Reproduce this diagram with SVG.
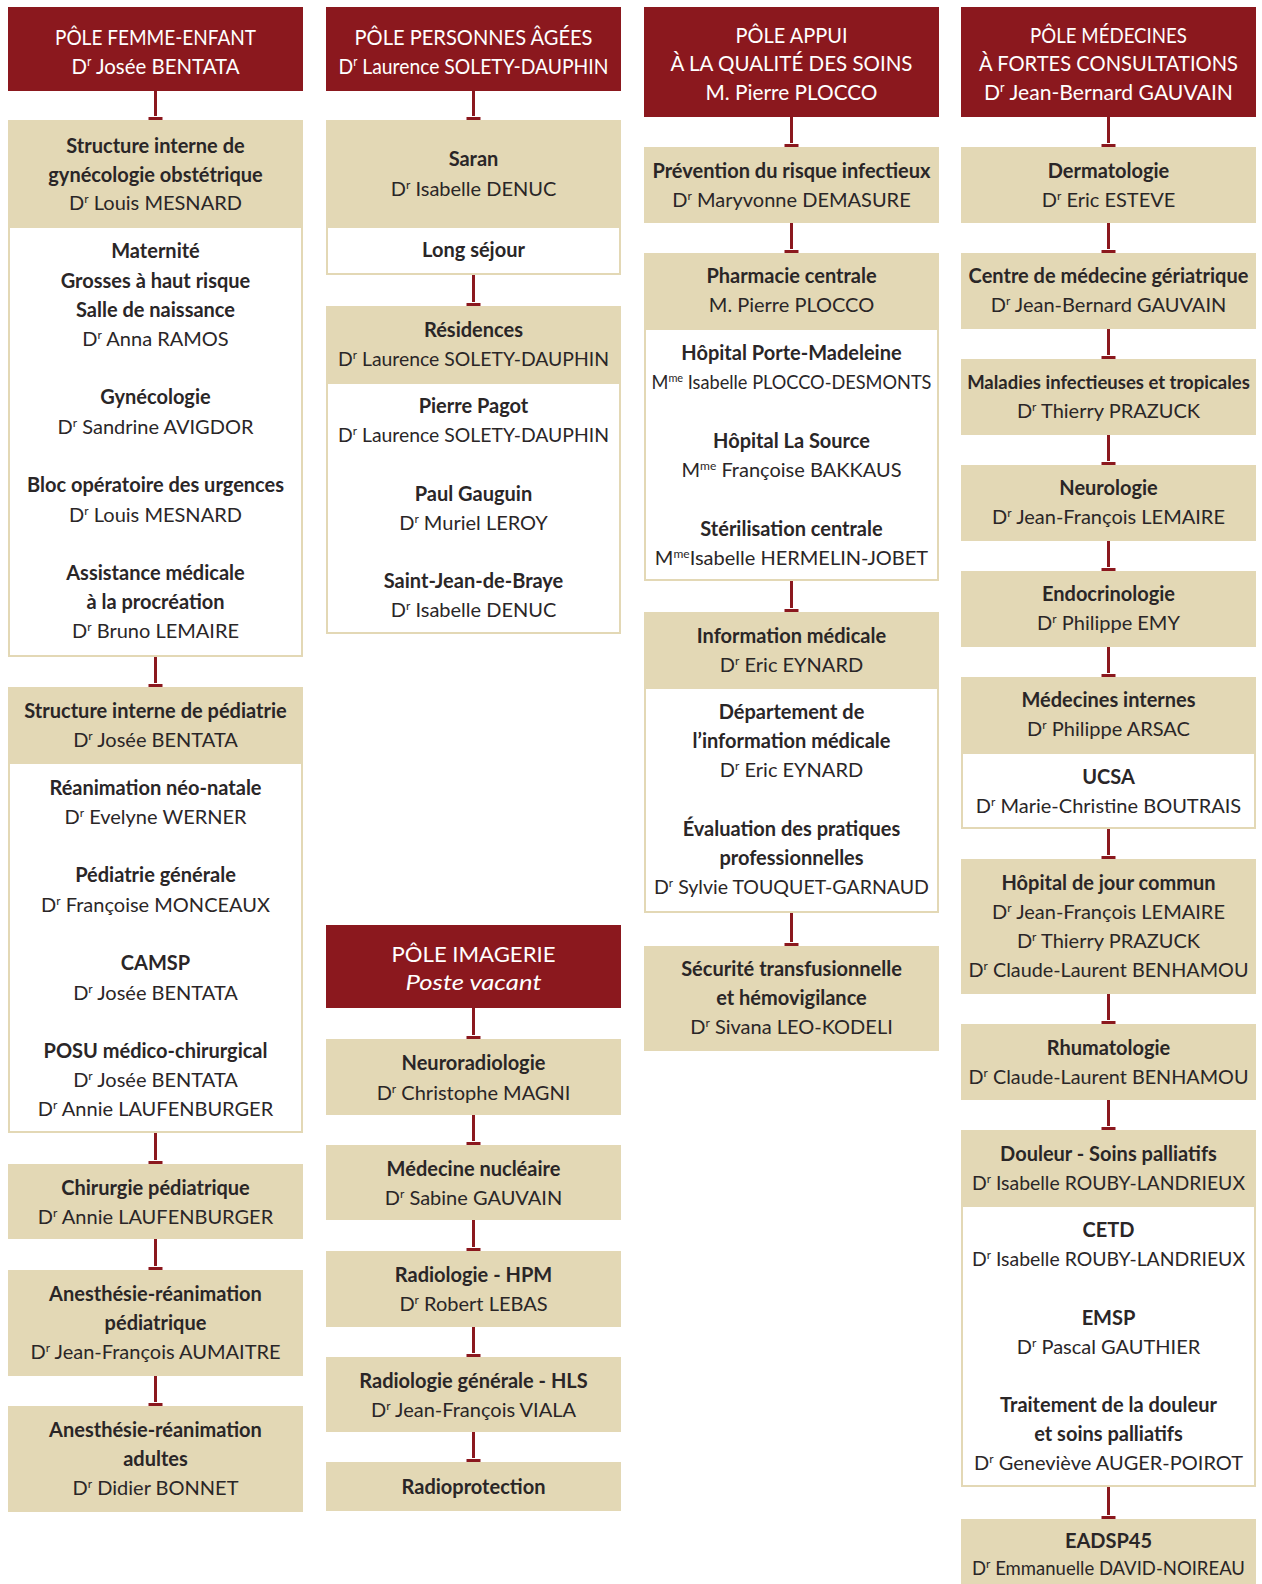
<svg xmlns="http://www.w3.org/2000/svg" xmlns:xlink="http://www.w3.org/1999/xlink" width="1262" height="1584" viewBox="0 0 1262 1584">
<style>
text{font-family:Lato,"Liberation Sans",sans-serif;text-anchor:middle;fill:#2a2627;font-size:20px}
.hd{fill:#8b181e}
.bx{fill:#e3d8b5}
.wb{fill:#fff;stroke:#e3d8b5;stroke-width:2}
.ht{fill:#fff;font-size:22px}
.b{font-weight:bold}
.s{font-size:12px}
.hs{font-size:13px}
.i{font-style:italic}
.sm{font-size:18.5px}
.c line{stroke:#8b181e;stroke-width:3}
</style>
<defs>
<rect id="tb" x="-7.5" y="-3.5" width="15" height="5.5" fill="#8b181e" stroke="#fff" stroke-width="1"/>
</defs>
<rect width="1262" height="1584" fill="#fff"/>

<g class="c" id="connectors">
<line x1="155.5" y1="91" x2="155.5" y2="120"/><use xlink:href="#tb" x="155.5" y="120"/>
<line x1="155.5" y1="657" x2="155.5" y2="687"/><use xlink:href="#tb" x="155.5" y="687"/>
<line x1="155.5" y1="1133" x2="155.5" y2="1164"/><use xlink:href="#tb" x="155.5" y="1164"/>
<line x1="155.5" y1="1239" x2="155.5" y2="1270"/><use xlink:href="#tb" x="155.5" y="1270"/>
<line x1="155.5" y1="1376" x2="155.5" y2="1406"/><use xlink:href="#tb" x="155.5" y="1406"/>

<line x1="473.5" y1="91" x2="473.5" y2="120"/><use xlink:href="#tb" x="473.5" y="120"/>
<line x1="473.5" y1="275" x2="473.5" y2="306"/><use xlink:href="#tb" x="473.5" y="306"/>
<line x1="473.5" y1="1008" x2="473.5" y2="1039"/><use xlink:href="#tb" x="473.5" y="1039"/>
<line x1="473.5" y1="1115" x2="473.5" y2="1145"/><use xlink:href="#tb" x="473.5" y="1145"/>
<line x1="473.5" y1="1220" x2="473.5" y2="1251"/><use xlink:href="#tb" x="473.5" y="1251"/>
<line x1="473.5" y1="1327" x2="473.5" y2="1357"/><use xlink:href="#tb" x="473.5" y="1357"/>
<line x1="473.5" y1="1432" x2="473.5" y2="1462"/><use xlink:href="#tb" x="473.5" y="1462"/>

<line x1="791.5" y1="117" x2="791.5" y2="147"/><use xlink:href="#tb" x="791.5" y="147"/>
<line x1="791.5" y1="223" x2="791.5" y2="253"/><use xlink:href="#tb" x="791.5" y="253"/>
<line x1="791.5" y1="581" x2="791.5" y2="612"/><use xlink:href="#tb" x="791.5" y="612"/>
<line x1="791.5" y1="913" x2="791.5" y2="946"/><use xlink:href="#tb" x="791.5" y="946"/>

<line x1="1108.5" y1="117" x2="1108.5" y2="147"/><use xlink:href="#tb" x="1108.5" y="147"/>
<line x1="1108.5" y1="223" x2="1108.5" y2="253"/><use xlink:href="#tb" x="1108.5" y="253"/>
<line x1="1108.5" y1="329" x2="1108.5" y2="359"/><use xlink:href="#tb" x="1108.5" y="359"/>
<line x1="1108.5" y1="435" x2="1108.5" y2="465"/><use xlink:href="#tb" x="1108.5" y="465"/>
<line x1="1108.5" y1="541" x2="1108.5" y2="571"/><use xlink:href="#tb" x="1108.5" y="571"/>
<line x1="1108.5" y1="647" x2="1108.5" y2="677"/><use xlink:href="#tb" x="1108.5" y="677"/>
<line x1="1108.5" y1="829" x2="1108.5" y2="859"/><use xlink:href="#tb" x="1108.5" y="859"/>
<line x1="1108.5" y1="994" x2="1108.5" y2="1024"/><use xlink:href="#tb" x="1108.5" y="1024"/>
<line x1="1108.5" y1="1100" x2="1108.5" y2="1130"/><use xlink:href="#tb" x="1108.5" y="1130"/>
<line x1="1108.5" y1="1487" x2="1108.5" y2="1519"/><use xlink:href="#tb" x="1108.5" y="1519"/>
</g>

<!-- Column 1 -->
<g id="pole-femme-enfant">
<rect class="hd" x="8" y="7" width="295" height="84"/>
<text class="ht" x="155.5" y="45" textLength="201" lengthAdjust="spacingAndGlyphs">PÔLE FEMME-ENFANT</text>
<text class="ht" x="155.5" y="74" textLength="168" lengthAdjust="spacingAndGlyphs">D<tspan class="hs" dy="-8">r</tspan><tspan dy="8"> Josée BENTATA</tspan></text>
</g>
<g id="gyneco">
<rect class="bx" x="8" y="120" width="295" height="107"/>
<text class="b" x="155.5" y="153">Structure interne de</text>
<text class="b" x="155.5" y="182">gynécologie obstétrique</text>
<text x="155.5" y="210">D<tspan class="s" dy="-7">r</tspan><tspan dy="7"> Louis MESNARD</tspan></text>
</g>
<g id="gyneco-services">
<rect class="wb" x="9" y="227" width="293" height="429"/>
<text class="b" x="155.5" y="258">Maternité</text>
<text class="b" x="155.5" y="288">Grosses à haut risque</text>
<text class="b" x="155.5" y="317">Salle de naissance</text>
<text x="155.5" y="346">D<tspan class="s" dy="-7">r</tspan><tspan dy="7"> Anna RAMOS</tspan></text>
<text class="b" x="155.5" y="404">Gynécologie</text>
<text x="155.5" y="434">D<tspan class="s" dy="-7">r</tspan><tspan dy="7"> Sandrine AVIGDOR</tspan></text>
<text class="b" x="155.5" y="492">Bloc opératoire des urgences</text>
<text x="155.5" y="522">D<tspan class="s" dy="-7">r</tspan><tspan dy="7"> Louis MESNARD</tspan></text>
<text class="b" x="155.5" y="580">Assistance médicale</text>
<text class="b" x="155.5" y="609">à la procréation</text>
<text x="155.5" y="638">D<tspan class="s" dy="-7">r</tspan><tspan dy="7"> Bruno LEMAIRE</tspan></text>
</g>
<g id="pediatrie">
<rect class="bx" x="8" y="687" width="295" height="76"/>
<text class="b" x="155.5" y="718">Structure interne de pédiatrie</text>
<text x="155.5" y="747">D<tspan class="s" dy="-7">r</tspan><tspan dy="7"> Josée BENTATA</tspan></text>
</g>
<g id="pediatrie-services">
<rect class="wb" x="9" y="763" width="293" height="369"/>
<text class="b" x="155.5" y="795">Réanimation néo-natale</text>
<text x="155.5" y="824">D<tspan class="s" dy="-7">r</tspan><tspan dy="7"> Evelyne WERNER</tspan></text>
<text class="b" x="155.5" y="882">Pédiatrie générale</text>
<text x="155.5" y="912">D<tspan class="s" dy="-7">r</tspan><tspan dy="7"> Françoise MONCEAUX</tspan></text>
<text class="b" x="155.5" y="970">CAMSP</text>
<text x="155.5" y="1000">D<tspan class="s" dy="-7">r</tspan><tspan dy="7"> Josée BENTATA</tspan></text>
<text class="b" x="155.5" y="1058">POSU médico-chirurgical</text>
<text x="155.5" y="1087">D<tspan class="s" dy="-7">r</tspan><tspan dy="7"> Josée BENTATA</tspan></text>
<text x="155.5" y="1116">D<tspan class="s" dy="-7">r</tspan><tspan dy="7"> Annie LAUFENBURGER</tspan></text>
</g>
<g id="chirurgie-pediatrique">
<rect class="bx" x="8" y="1164" width="295" height="75"/>
<text class="b" x="155.5" y="1195">Chirurgie pédiatrique</text>
<text x="155.5" y="1224">D<tspan class="s" dy="-7">r</tspan><tspan dy="7"> Annie LAUFENBURGER</tspan></text>
</g>
<g id="anesthesie-pediatrique">
<rect class="bx" x="8" y="1270" width="295" height="106"/>
<text class="b" x="155.5" y="1301">Anesthésie-réanimation</text>
<text class="b" x="155.5" y="1330">pédiatrique</text>
<text x="155.5" y="1359">D<tspan class="s" dy="-7">r</tspan><tspan dy="7"> Jean-François AUMAITRE</tspan></text>
</g>
<g id="anesthesie-adultes">
<rect class="bx" x="8" y="1406" width="295" height="106"/>
<text class="b" x="155.5" y="1437">Anesthésie-réanimation</text>
<text class="b" x="155.5" y="1466">adultes</text>
<text x="155.5" y="1495">D<tspan class="s" dy="-7">r</tspan><tspan dy="7"> Didier BONNET</tspan></text>
</g>

<!-- Column 2 -->
<g id="pole-personnes-agees">
<rect class="hd" x="326" y="7" width="295" height="84"/>
<text class="ht" x="473.5" y="45" textLength="238" lengthAdjust="spacingAndGlyphs">PÔLE PERSONNES ÂGÉES</text>
<text class="ht" x="473.5" y="74" textLength="270" lengthAdjust="spacingAndGlyphs">D<tspan class="hs" dy="-8">r</tspan><tspan dy="8"> Laurence SOLETY-DAUPHIN</tspan></text>
</g>
<g id="saran">
<rect class="bx" x="326" y="120" width="295" height="107"/>
<text class="b" x="473.5" y="166">Saran</text>
<text x="473.5" y="196">D<tspan class="s" dy="-7">r</tspan><tspan dy="7"> Isabelle DENUC</tspan></text>
</g>
<g id="long-sejour">
<rect class="wb" x="327" y="227" width="293" height="47"/>
<text class="b" x="473.5" y="257">Long séjour</text>
</g>
<g id="residences">
<rect class="bx" x="326" y="306" width="295" height="77"/>
<text class="b" x="473.5" y="337">Résidences</text>
<text x="473.5" y="366" textLength="271" lengthAdjust="spacingAndGlyphs">D<tspan class="s" dy="-7">r</tspan><tspan dy="7"> Laurence SOLETY-DAUPHIN</tspan></text>
</g>
<g id="residences-sites">
<rect class="wb" x="327" y="383" width="293" height="250"/>
<text class="b" x="473.5" y="413">Pierre Pagot</text>
<text x="473.5" y="442" textLength="271" lengthAdjust="spacingAndGlyphs">D<tspan class="s" dy="-7">r</tspan><tspan dy="7"> Laurence SOLETY-DAUPHIN</tspan></text>
<text class="b" x="473.5" y="501">Paul Gauguin</text>
<text x="473.5" y="530">D<tspan class="s" dy="-7">r</tspan><tspan dy="7"> Muriel LEROY</tspan></text>
<text class="b" x="473.5" y="588">Saint-Jean-de-Braye</text>
<text x="473.5" y="617">D<tspan class="s" dy="-7">r</tspan><tspan dy="7"> Isabelle DENUC</tspan></text>
</g>
<g id="pole-imagerie">
<rect class="hd" x="326" y="925" width="295" height="83"/>
<text class="ht" x="473.5" y="962" textLength="164" lengthAdjust="spacingAndGlyphs">PÔLE IMAGERIE</text>
<text class="ht i" x="473.5" y="990" textLength="136" lengthAdjust="spacingAndGlyphs">Poste vacant</text>
</g>
<g id="neuroradiologie">
<rect class="bx" x="326" y="1039" width="295" height="76"/>
<text class="b" x="473.5" y="1070">Neuroradiologie</text>
<text x="473.5" y="1100">D<tspan class="s" dy="-7">r</tspan><tspan dy="7"> Christophe MAGNI</tspan></text>
</g>
<g id="medecine-nucleaire">
<rect class="bx" x="326" y="1145" width="295" height="75"/>
<text class="b" x="473.5" y="1176">Médecine nucléaire</text>
<text x="473.5" y="1205">D<tspan class="s" dy="-7">r</tspan><tspan dy="7"> Sabine GAUVAIN</tspan></text>
</g>
<g id="radiologie-hpm">
<rect class="bx" x="326" y="1251" width="295" height="76"/>
<text class="b" x="473.5" y="1282">Radiologie - HPM</text>
<text x="473.5" y="1311">D<tspan class="s" dy="-7">r</tspan><tspan dy="7"> Robert LEBAS</tspan></text>
</g>
<g id="radiologie-hls">
<rect class="bx" x="326" y="1357" width="295" height="75"/>
<text class="b" x="473.5" y="1388">Radiologie générale - HLS</text>
<text x="473.5" y="1417">D<tspan class="s" dy="-7">r</tspan><tspan dy="7"> Jean-François VIALA</tspan></text>
</g>
<g id="radioprotection">
<rect class="bx" x="326" y="1462" width="295" height="49"/>
<text class="b" x="473.5" y="1494">Radioprotection</text>
</g>

<!-- Column 3 -->
<g id="pole-appui">
<rect class="hd" x="644" y="7" width="295" height="110"/>
<text class="ht" x="791.5" y="43" textLength="112" lengthAdjust="spacingAndGlyphs">PÔLE APPUI</text>
<text class="ht" x="791.5" y="71" textLength="242" lengthAdjust="spacingAndGlyphs">À LA QUALITÉ DES SOINS</text>
<text class="ht" x="791.5" y="100" textLength="172" lengthAdjust="spacingAndGlyphs">M. Pierre PLOCCO</text>
</g>
<g id="prevention">
<rect class="bx" x="644" y="147" width="295" height="76"/>
<text class="b" x="791.5" y="178">Prévention du risque infectieux</text>
<text x="791.5" y="207">D<tspan class="s" dy="-7">r</tspan><tspan dy="7"> Maryvonne DEMASURE</tspan></text>
</g>
<g id="pharmacie">
<rect class="bx" x="644" y="253" width="295" height="76"/>
<text class="b" x="791.5" y="283">Pharmacie centrale</text>
<text x="791.5" y="312">M. Pierre PLOCCO</text>
</g>
<g id="pharmacie-sites">
<rect class="wb" x="645" y="329" width="293" height="251"/>
<text class="b" x="791.5" y="360">Hôpital Porte-Madeleine</text>
<text x="791.5" y="389" textLength="280" lengthAdjust="spacingAndGlyphs">M<tspan class="s" dy="-7">me</tspan><tspan dy="7"> Isabelle PLOCCO-DESMONTS</tspan></text>
<text class="b" x="791.5" y="448">Hôpital La Source</text>
<text x="791.5" y="477">M<tspan class="s" dy="-7">me</tspan><tspan dy="7"> Françoise BAKKAUS</tspan></text>
<text class="b" x="791.5" y="536">Stérilisation centrale</text>
<text x="791.5" y="565">M<tspan class="s" dy="-7">me</tspan><tspan dy="7">Isabelle HERMELIN-JOBET</tspan></text>
</g>
<g id="information-medicale">
<rect class="bx" x="644" y="612" width="295" height="76"/>
<text class="b" x="791.5" y="643">Information médicale</text>
<text x="791.5" y="672">D<tspan class="s" dy="-7">r</tspan><tspan dy="7"> Eric EYNARD</tspan></text>
</g>
<g id="information-services">
<rect class="wb" x="645" y="688" width="293" height="224"/>
<text class="b" x="791.5" y="719">Département de</text>
<text class="b" x="791.5" y="748">l’information médicale</text>
<text x="791.5" y="777">D<tspan class="s" dy="-7">r</tspan><tspan dy="7"> Eric EYNARD</tspan></text>
<text class="b" x="791.5" y="836">Évaluation des pratiques</text>
<text class="b" x="791.5" y="865">professionnelles</text>
<text x="791.5" y="894" textLength="275" lengthAdjust="spacingAndGlyphs">D<tspan class="s" dy="-7">r</tspan><tspan dy="7"> Sylvie TOUQUET-GARNAUD</tspan></text>
</g>
<g id="securite-transfusionnelle">
<rect class="bx" x="644" y="946" width="295" height="105"/>
<text class="b" x="791.5" y="976">Sécurité transfusionnelle</text>
<text class="b" x="791.5" y="1005">et hémovigilance</text>
<text x="791.5" y="1034">D<tspan class="s" dy="-7">r</tspan><tspan dy="7"> Sivana LEO-KODELI</tspan></text>
</g>

<!-- Column 4 -->
<g id="pole-medecines">
<rect class="hd" x="961" y="7" width="295" height="110"/>
<text class="ht" x="1108.5" y="43" textLength="157" lengthAdjust="spacingAndGlyphs">PÔLE MÉDECINES</text>
<text class="ht" x="1108.5" y="71" textLength="259" lengthAdjust="spacingAndGlyphs">À FORTES CONSULTATIONS</text>
<text class="ht" x="1108.5" y="100" textLength="249" lengthAdjust="spacingAndGlyphs">D<tspan class="hs" dy="-8">r</tspan><tspan dy="8"> Jean-Bernard GAUVAIN</tspan></text>
</g>
<g id="dermatologie">
<rect class="bx" x="961" y="147" width="295" height="76"/>
<text class="b" x="1108.5" y="178">Dermatologie</text>
<text x="1108.5" y="207">D<tspan class="s" dy="-7">r</tspan><tspan dy="7"> Eric ESTEVE</tspan></text>
</g>
<g id="geriatrie">
<rect class="bx" x="961" y="253" width="295" height="76"/>
<text class="b" x="1108.5" y="283">Centre de médecine gériatrique</text>
<text x="1108.5" y="312">D<tspan class="s" dy="-7">r</tspan><tspan dy="7"> Jean-Bernard GAUVAIN</tspan></text>
</g>
<g id="maladies-infectieuses">
<rect class="bx" x="961" y="359" width="295" height="76"/>
<text class="b sm" x="1108.5" y="389">Maladies infectieuses et tropicales</text>
<text x="1108.5" y="418">D<tspan class="s" dy="-7">r</tspan><tspan dy="7"> Thierry PRAZUCK</tspan></text>
</g>
<g id="neurologie">
<rect class="bx" x="961" y="465" width="295" height="76"/>
<text class="b" x="1108.5" y="495">Neurologie</text>
<text x="1108.5" y="524">D<tspan class="s" dy="-7">r</tspan><tspan dy="7"> Jean-François LEMAIRE</tspan></text>
</g>
<g id="endocrinologie">
<rect class="bx" x="961" y="571" width="295" height="76"/>
<text class="b" x="1108.5" y="601">Endocrinologie</text>
<text x="1108.5" y="630">D<tspan class="s" dy="-7">r</tspan><tspan dy="7"> Philippe EMY</tspan></text>
</g>
<g id="medecines-internes">
<rect class="bx" x="961" y="677" width="295" height="76"/>
<text class="b" x="1108.5" y="707">Médecines internes</text>
<text x="1108.5" y="736">D<tspan class="s" dy="-7">r</tspan><tspan dy="7"> Philippe ARSAC</tspan></text>
</g>
<g id="ucsa">
<rect class="wb" x="962" y="753" width="293" height="75"/>
<text class="b" x="1108.5" y="784">UCSA</text>
<text x="1108.5" y="813">D<tspan class="s" dy="-7">r</tspan><tspan dy="7"> Marie-Christine BOUTRAIS</tspan></text>
</g>
<g id="hopital-de-jour">
<rect class="bx" x="961" y="859" width="295" height="135"/>
<text class="b" x="1108.5" y="890">Hôpital de jour commun</text>
<text x="1108.5" y="919">D<tspan class="s" dy="-7">r</tspan><tspan dy="7"> Jean-François LEMAIRE</tspan></text>
<text x="1108.5" y="948">D<tspan class="s" dy="-7">r</tspan><tspan dy="7"> Thierry PRAZUCK</tspan></text>
<text x="1108.5" y="977" textLength="280" lengthAdjust="spacingAndGlyphs">D<tspan class="s" dy="-7">r</tspan><tspan dy="7"> Claude-Laurent BENHAMOU</tspan></text>
</g>
<g id="rhumatologie">
<rect class="bx" x="961" y="1024" width="295" height="76"/>
<text class="b" x="1108.5" y="1055">Rhumatologie</text>
<text x="1108.5" y="1084" textLength="280" lengthAdjust="spacingAndGlyphs">D<tspan class="s" dy="-7">r</tspan><tspan dy="7"> Claude-Laurent BENHAMOU</tspan></text>
</g>
<g id="douleur">
<rect class="bx" x="961" y="1130" width="295" height="76"/>
<text class="b" x="1108.5" y="1161">Douleur - Soins palliatifs</text>
<text x="1108.5" y="1190" textLength="273" lengthAdjust="spacingAndGlyphs">D<tspan class="s" dy="-7">r</tspan><tspan dy="7"> Isabelle ROUBY-LANDRIEUX</tspan></text>
</g>
<g id="douleur-services">
<rect class="wb" x="962" y="1206" width="293" height="280"/>
<text class="b" x="1108.5" y="1237">CETD</text>
<text x="1108.5" y="1266" textLength="273" lengthAdjust="spacingAndGlyphs">D<tspan class="s" dy="-7">r</tspan><tspan dy="7"> Isabelle ROUBY-LANDRIEUX</tspan></text>
<text class="b" x="1108.5" y="1325">EMSP</text>
<text x="1108.5" y="1354">D<tspan class="s" dy="-7">r</tspan><tspan dy="7"> Pascal GAUTHIER</tspan></text>
<text class="b" x="1108.5" y="1412">Traitement de la douleur</text>
<text class="b" x="1108.5" y="1441">et soins palliatifs</text>
<text x="1108.5" y="1470">D<tspan class="s" dy="-7">r</tspan><tspan dy="7"> Geneviève AUGER-POIROT</tspan></text>
</g>
<g id="eadsp45">
<rect class="bx" x="961" y="1519" width="295" height="65"/>
<text class="b" x="1108.5" y="1548">EADSP45</text>
<text class="sm" x="1108.5" y="1575">D<tspan class="s" dy="-7">r</tspan><tspan dy="7"> Emmanuelle DAVID-NOIREAU</tspan></text>
</g>
</svg>
